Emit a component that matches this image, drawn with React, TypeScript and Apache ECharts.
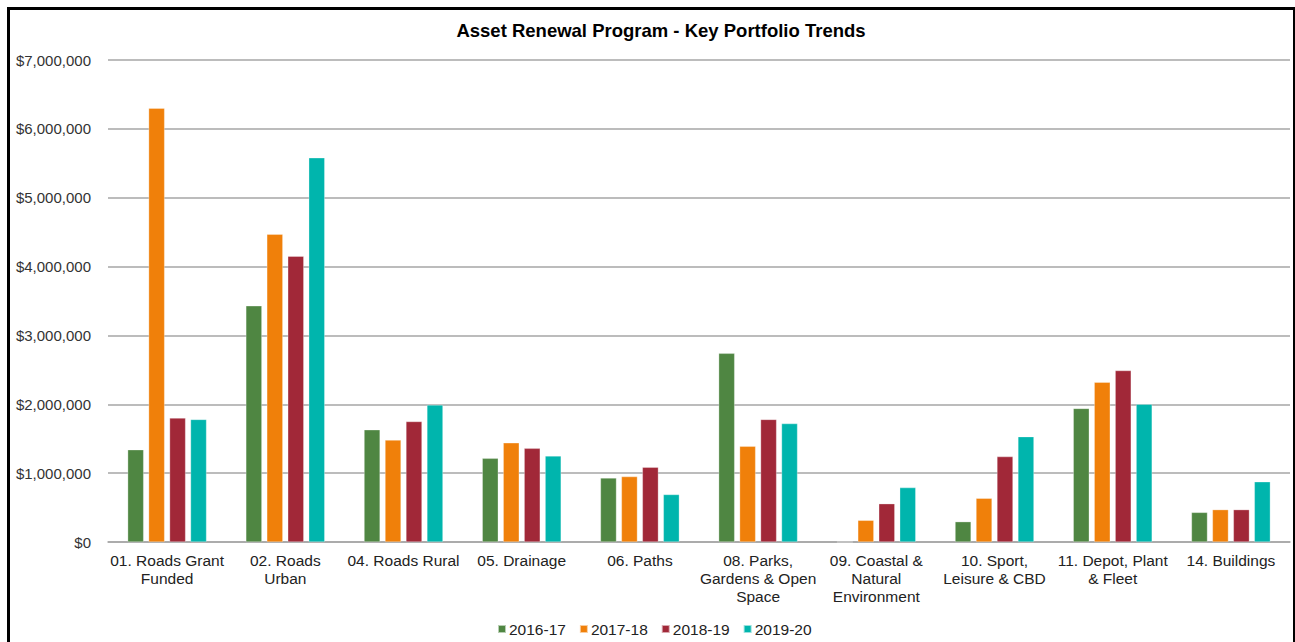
import React, { useEffect, useRef } from "react";
import * as echarts from "echarts";

const categories = [
  "01. Roads Grant\nFunded",
  "02. Roads\nUrban",
  "04. Roads Rural",
  "05. Drainage",
  "06. Paths",
  "08. Parks,\nGardens & Open\nSpace",
  "09. Coastal &\nNatural\nEnvironment",
  "10. Sport,\nLeisure & CBD",
  "11. Depot, Plant\n& Fleet",
  "14. Buildings",
];

const seriesNames = ["2016-17", "2017-18", "2018-19", "2019-20"];
const seriesColors = ["#4F8642", "#F0800A", "#A12838", "#00B5AD"];

const values2016_17 = [1340000, 3430000, 1630000, 1215000, 930000, 2740000, 0, 295000, 1940000, 430000];
const values2017_18 = [6300000, 4470000, 1480000, 1440000, 950000, 1390000, 315000, 635000, 2320000, 470000];
const values2018_19 = [1800000, 4150000, 1750000, 1360000, 1085000, 1780000, 556000, 1240000, 2490000, 470000];
const values2019_20 = [1780000, 5580000, 1990000, 1250000, 690000, 1720000, 790000, 1530000, 2000000, 875000];

const allValues = [values2016_17, values2017_18, values2018_19, values2019_20];

const yMin = 0;
const yMax = 7000000;
const yInterval = 1000000;

export default function App() {
  const ref = useRef<HTMLDivElement>(null);
  useEffect(() => {
    if (!ref.current) return;
    const chart = echarts.init(ref.current, null, { renderer: "svg" });
    const font = "'Liberation Sans', Arial, sans-serif";
    chart.setOption({
      animation: false,
      backgroundColor: "#ffffff",
      textStyle: { fontFamily: font },
      title: {
        text: "Asset Renewal Program - Key Portfolio Trends",
        left: 656,
        textAlign: "center",
        top: 16,
        textStyle: { fontFamily: font, fontSize: 18.5, fontWeight: "bold", color: "#000" },
      },
      graphic: [
        {
          type: "rect",
          left: 6,
          top: 6,
          shape: { x: 0, y: 0, width: 1286, height: 645 },
          style: { fill: "none", stroke: "#000", lineWidth: 3 },
          silent: true,
        },
      ],
      legend: {
        data: seriesNames,
        left: 492,
        top: 616,
        icon: "rect",
        itemWidth: 8,
        itemHeight: 8,
        itemGap: 13,
        textStyle: { fontFamily: font, fontSize: 15.5, color: "#222", padding: [0, 0, 0, -2] },
      },
      grid: { left: 108, right: 5, top: 60, bottom: 100, containLabel: false },
      xAxis: {
        type: "category",
        data: categories,
        axisTick: { show: false },
        axisLine: { lineStyle: { color: "#A6A6A6", width: 1.5 } },
        axisLabel: {
          interval: 0,
          margin: 9,
          fontFamily: font,
          fontSize: 15.5,
          lineHeight: 18,
          color: "#222",
          align: "center",
        },
      },
      yAxis: {
        type: "value",
        min: yMin,
        max: yMax,
        interval: yInterval,
        axisLine: { show: false },
        axisTick: { show: false },
        splitLine: { lineStyle: { color: "#A6A6A6", width: 1.5 } },
        axisLabel: {
          margin: 17,
          fontFamily: font,
          fontSize: 15,
          color: "#333",
          formatter: (v: number) => "$" + v.toLocaleString("en-US"),
        },
      },
      series: seriesNames.map((name, i) => ({
        name,
        type: "bar",
        data: allValues[i],
        barWidth: 16,
        barGap: "31%",
        itemStyle: { color: seriesColors[i], borderColor: "rgba(255,255,255,0.6)", borderWidth: 0.5 },
      })),
    });
    return () => chart.dispose();
  }, []);
  return (
    <div
      ref={ref}
      style={{ position: "absolute", left: 0, top: 0, width: 1295, height: 642, background: "#fff" }}
    />
  );
}
